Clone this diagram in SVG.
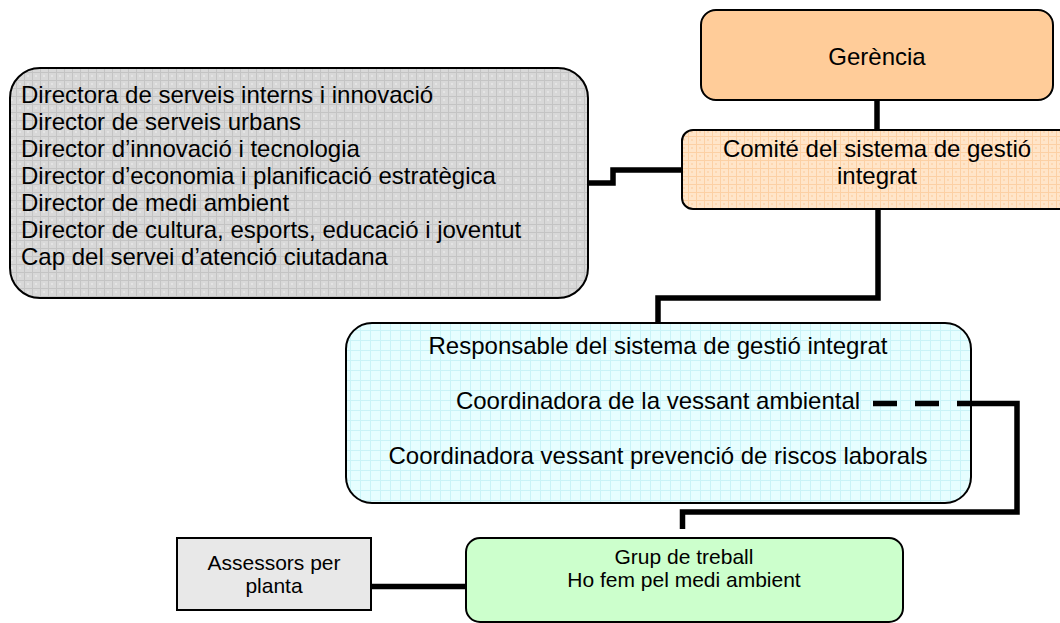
<svg xmlns="http://www.w3.org/2000/svg" width="1060" height="623" viewBox="0 0 1060 623">
<style>
  .box { stroke: #000; stroke-width: 2; }
  .t24 { font-family: "Liberation Sans", Arial, sans-serif; font-size: 24px; fill: #000; }
  .t21 { font-family: "Liberation Sans", Arial, sans-serif; font-size: 21px; fill: #000; }
  .c { text-anchor: middle; }
  .conn { fill: none; stroke: #000; stroke-width: 5.5; stroke-linejoin: miter; stroke-linecap: butt; }
  .dash { stroke-dasharray: 24 18; }
</style>
<defs>
  <pattern id="patGray" width="8" height="8" patternUnits="userSpaceOnUse">
    <rect width="8" height="8" fill="#d8d8d8"/>
    <path d="M0 0.5H8M0.5 0V8" stroke="#c4c4c4" stroke-width="1"/>
    <rect x="3" y="3" width="2" height="2" fill="#e4e4e4"/>
  </pattern>
  <pattern id="patPeach" width="8" height="8" patternUnits="userSpaceOnUse">
    <rect width="8" height="8" fill="#ffe5c9"/>
    <path d="M0 0.5H8M0.5 0V8" stroke="#fcd0a4" stroke-width="1"/>
    <rect x="3" y="3" width="2" height="2" fill="#fdd8b2"/>
  </pattern>
  <pattern id="patBlue" width="10" height="10" patternUnits="userSpaceOnUse">
    <rect width="10" height="10" fill="#e6feff"/>
    <path d="M0 0.5H10M0.5 0V10" stroke="#c9f3f7" stroke-width="1"/>
  </pattern>
</defs>
<rect width="1060" height="623" fill="#fff"/>

<g id="gerencia">
  <rect class="box" x="701" y="10" width="352" height="90" rx="15" fill="#ffcc99"/>
  <text class="t24 c" x="877" y="65">Gerència</text>
</g>

<g id="comite">
  <rect class="box" x="682" y="130" width="400" height="79" rx="11" fill="url(#patPeach)"/>
  <text class="t24 c" x="877" y="157">Comité del sistema de gestió</text>
  <text class="t24 c" x="877" y="184">integrat</text>
</g>

<g id="directors">
  <rect class="box" x="10" y="68" width="578" height="230" rx="30" fill="url(#patGray)"/>
  <text class="t24" x="21" y="103">Directora de serveis interns i innovació</text>
  <text class="t24" x="21" y="130">Director de serveis urbans</text>
  <text class="t24" x="21" y="157">Director d’innovació i tecnologia</text>
  <text class="t24" x="21" y="184">Director d’economia i planificació estratègica</text>
  <text class="t24" x="21" y="211">Director de medi ambient</text>
  <text class="t24" x="21" y="238">Director de cultura, esports, educació i joventut</text>
  <text class="t24" x="21" y="265">Cap del servei d’atenció ciutadana</text>
</g>

<g id="responsable">
  <rect class="box" x="346" y="323" width="625" height="180" rx="26" fill="url(#patBlue)"/>
  <text class="t24 c" x="658" y="354">Responsable del sistema de gestió integrat</text>
  <text class="t24 c" x="658" y="409">Coordinadora de la vessant ambiental</text>
  <text class="t24 c" x="658" y="464">Coordinadora vessant prevenció de riscos laborals</text>
</g>

<g id="grup">
  <rect class="box" x="466" y="538" width="437" height="84" rx="14" fill="#ccffcc"/>
  <text class="t21 c" x="684" y="564">Grup de treball</text>
  <text class="t21 c" x="684" y="587">Ho fem pel medi ambient</text>
</g>

<g id="assessors">
  <rect class="box" x="177" y="538" width="194" height="72" fill="#e8e8e8"/>
  <text class="t21 c" x="274" y="570">Assessors per</text>
  <text class="t21 c" x="274" y="593">planta</text>
</g>

<g id="connectors">
  <line class="conn" x1="877" y1="101" x2="877" y2="129"/>
  <polyline class="conn" points="589,183 613,183 613,170 681,170"/>
  <polyline class="conn" points="878,210 878,298 658,298 658,322"/>
  <line class="conn dash" x1="873" y1="403.5" x2="970" y2="403.5"/>
  <polyline class="conn" points="970,403.5 1017,403.5 1017,512 682.5,512 682.5,529"/>
  <line class="conn" x1="372" y1="586.5" x2="465" y2="586.5" stroke-width="6.5"/>
</g>
</svg>
